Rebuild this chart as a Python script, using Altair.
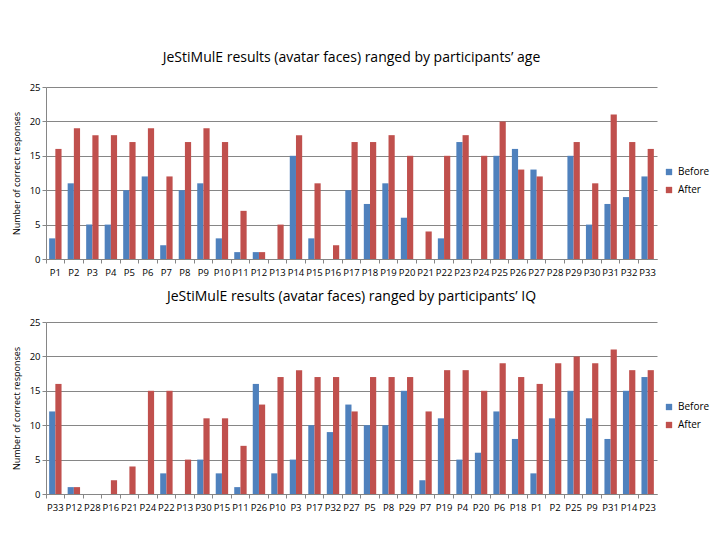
import altair as alt
import pandas as pd

participants = [f"P{i}" for i in range(1, 34)]
before = [3, 11, 5, 5, 10, 12, 2, 10, 11, 3, 1, 1, 0, 15, 3, 0, 10, 8, 11, 6, 0, 3, 17, 0, 15, 16, 13, 0, 15, 5, 8, 9, 12]
after = [16, 19, 18, 18, 17, 19, 12, 17, 19, 17, 7, 1, 5, 18, 11, 2, 17, 17, 18, 15, 4, 15, 18, 15, 20, 13, 12, 0, 17, 11, 21, 17, 16]
iq_order = ["P33", "P12", "P28", "P16", "P21", "P24", "P22", "P13", "P30", "P15", "P11", "P26", "P10", "P3",
            "P17", "P32", "P27", "P5", "P8", "P29", "P7", "P19", "P4", "P20", "P6", "P18", "P1", "P2", "P25",
            "P9", "P31", "P14", "P23"]
series = ["Before", "After"]
colors = ["#4F81BD", "#C0504D"]
y_ticks = [0, 5, 10, 15, 20, 25]

rows = []
for p, b, a in zip(participants, before, after):
    rows.append({"participant": p, "series": "Before", "value": b})
    rows.append({"participant": p, "series": "After", "value": a})
df = pd.DataFrame(rows)
pdf = pd.DataFrame({"participant": participants})

FONT = "Open Sans"
GRAY = "#868686"


def panel(title, order, offset):
    xscale = alt.Scale(paddingInner=0.33, paddingOuter=0.17)
    ticks = alt.Chart(pdf).mark_bar(opacity=0).encode(
        x=alt.X("participant:N", sort=order, title=None, scale=xscale,
                axis=alt.Axis(labels=False, domain=True, domainColor=GRAY, tickColor=GRAY, tickSize=4,
                              bandPosition=-0.25, orient="bottom")),
    )
    bars = alt.Chart(df).mark_bar().encode(
        x=alt.X("participant:N", sort=order, title=None, scale=xscale,
                axis=alt.Axis(labelAngle=0, labelFontSize=9.5, labelFont=FONT, labelColor="#000",
                              domain=False, ticks=False, labelPadding=8, orient="bottom")),
        xOffset=alt.XOffset("series:N", sort=series),
        y=alt.Y("value:Q", title="Number of correct responses",
                scale=alt.Scale(domain=[0, 25]),
                axis=alt.Axis(values=y_ticks, labelFontSize=9.5, labelFont=FONT, labelColor="#000",
                              titleFontSize=9, titleFont=FONT, titleFontWeight="normal", titleColor="#000",
                              domainColor=GRAY, tickColor=GRAY, tickSize=4,
                              gridColor=GRAY, titlePadding=8)),
        color=alt.Color("series:N", sort=series,
                        scale=alt.Scale(domain=series, range=colors),
                        legend=alt.Legend(title=None, orient="none", legendX=618, legendY=80,
                                          symbolType="square", symbolSize=40, labelFontSize=10,
                                          labelFont=FONT, labelColor="#000", rowPadding=8,
                                          symbolStrokeWidth=0)),
    )
    return alt.layer(ticks, bars, title=alt.Title(title, fontSize=14, font=FONT, fontWeight="normal",
                                                  color="#000", offset=offset)).resolve_axis(
        x="independent").properties(width=611, height=172)


top = panel("JeStiMulE results (avatar faces) ranged by participants\u2019 age", participants, 17)
bottom = panel("JeStiMulE results (avatar faces) ranged by participants\u2019 IQ", iq_order, 13)

chart = alt.vconcat(top, bottom, spacing=13).resolve_scale(color="independent").resolve_legend(
    color="independent").properties(padding={"top": 43, "left": 4, "right": 0, "bottom": 0}).configure_view(
    stroke=None).configure_axisX(grid=False)

chart.save("out.html", embed_options={"renderer": "svg", "actions": False})
